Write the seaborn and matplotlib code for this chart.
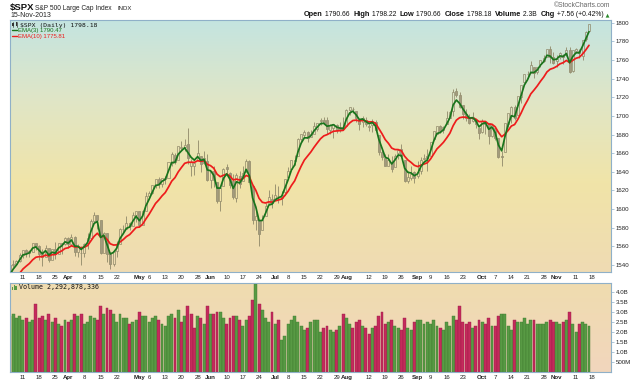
import numpy as np
import pandas as pd
import matplotlib
matplotlib.use("Agg")
import matplotlib.pyplot as plt
import seaborn as sns
from matplotlib.colors import LinearSegmentedColormap
from matplotlib.offsetbox import TextArea, HPacker, AnchoredOffsetbox
from matplotlib.patches import Rectangle
from matplotlib.lines import Line2D

# ---------------- data ----------------
holidays = ["2013-03-29", "2013-05-27", "2013-07-04", "2013-09-02"]
dates = [d for d in pd.bdate_range("2013-03-04", "2013-11-15") if d.strftime("%Y-%m-%d") not in holidays]

# closes used only to seed the moving averages (31-Jan .. 01-Mar)
warmup_close = [1498.11, 1513.17, 1495.71, 1511.29, 1512.12, 1509.39, 1517.93, 1517.01, 1519.43,
                1520.33, 1521.38, 1519.79, 1530.94, 1511.95, 1502.42, 1515.60, 1487.85, 1496.94,
                1515.99, 1514.68, 1518.20]

opens = [
 1518.2, 1525.2, 1539.8, 1541.5, 1544.3,
 1551.2, 1556.2, 1552.5, 1554.5, 1563.2, 1560.7, 1552.1, 1548.3, 1558.7, 1545.9, 1556.9, 1551.7, 1563.8, 1562.9,
 1569.2, 1562.2, 1570.3, 1553.7, 1553.0, 1553.3, 1563.1, 1568.6, 1587.7, 1593.3, 1588.8, 1552.4, 1574.6, 1552.0,
 1541.6, 1555.3, 1562.5, 1578.8, 1578.9, 1585.2, 1582.3, 1593.6,
 1597.6, 1582.8, 1597.6, 1614.4, 1617.6, 1626.0, 1632.7, 1626.7, 1632.1, 1633.8, 1649.1, 1658.1, 1652.5, 1665.7,
 1666.2, 1669.4, 1646.2, 1646.7, 1652.6, 1656.6, 1649.1, 1652.1,
 1631.7, 1640.7, 1629.1, 1609.0, 1625.3, 1644.7, 1638.6, 1629.9, 1612.1, 1635.5, 1630.6, 1639.8, 1651.8, 1624.6,
 1588.6, 1588.8, 1577.5, 1592.3, 1606.4, 1611.1,
 1609.8, 1614.3, 1611.5, 1618.7, 1634.2, 1642.9, 1651.6, 1657.4, 1675.3, 1679.6, 1682.7, 1677.9, 1681.0, 1686.2,
 1694.4, 1696.1, 1696.1, 1685.2, 1687.3, 1690.3, 1687.9, 1687.8,
 1689.4, 1706.1, 1708.0, 1705.8, 1695.3, 1693.4, 1696.1, 1688.4, 1690.7, 1693.9, 1679.6, 1661.2, 1655.3, 1646.8,
 1650.7, 1645.0, 1659.9, 1664.3, 1652.5, 1630.3, 1633.5, 1640.0,
 1635.9, 1640.7, 1653.3, 1657.4, 1656.9, 1675.1, 1681.0, 1689.2, 1685.0, 1691.7, 1697.7, 1705.0, 1727.0, 1722.4,
 1711.4, 1702.6, 1698.0, 1694.1, 1695.5, 1687.3,
 1682.4, 1691.9, 1692.4, 1678.8, 1687.2, 1676.2, 1657.0, 1660.9, 1691.1, 1699.9, 1709.2, 1700.5, 1720.2, 1736.7,
 1745.2, 1746.5, 1752.3, 1747.5, 1756.0, 1759.4, 1762.9, 1772.3, 1763.2,
 1758.7, 1763.4, 1765.7, 1765.0, 1770.7, 1748.4, 1770.0, 1769.5, 1764.4, 1782.8, 1790.66]

highs = [
 1525.3, 1543.5, 1545.3, 1545.8, 1552.5,
 1556.3, 1556.8, 1556.4, 1563.3, 1563.6, 1561.6, 1557.3, 1561.6, 1558.7, 1557.7, 1564.9, 1563.9, 1564.0, 1570.3,
 1570.6, 1573.7, 1571.5, 1562.6, 1560.0, 1563.1, 1573.9, 1589.1, 1597.4, 1593.3, 1588.8, 1575.4, 1574.6, 1554.4,
 1555.9, 1565.6, 1579.6, 1583.0, 1592.6, 1585.8, 1596.7, 1597.6,
 1597.6, 1598.6, 1618.5, 1619.8, 1626.0, 1632.8, 1635.0, 1633.7, 1636.0, 1651.1, 1661.5, 1660.5, 1667.5, 1672.8,
 1674.9, 1687.2, 1654.2, 1649.8, 1674.2, 1656.6, 1661.9, 1659.0,
 1640.4, 1646.5, 1629.3, 1622.7, 1644.4, 1648.7, 1640.1, 1637.7, 1639.3, 1640.8, 1646.5, 1654.2, 1652.5, 1624.6,
 1599.2, 1588.8, 1593.8, 1606.8, 1620.1, 1615.9,
 1626.6, 1624.3, 1619.0, 1632.1, 1644.7, 1652.3, 1657.9, 1676.6, 1680.2, 1684.5, 1683.7, 1684.8, 1693.1, 1692.1,
 1697.6, 1698.4, 1698.4, 1690.9, 1691.9, 1690.9, 1693.2, 1698.4,
 1707.9, 1709.7, 1709.2, 1705.8, 1695.3, 1700.2, 1699.4, 1691.5, 1696.8, 1695.5, 1679.6, 1663.6, 1659.2, 1658.9,
 1657.0, 1659.6, 1664.9, 1669.5, 1652.5, 1641.2, 1646.4, 1640.8,
 1651.4, 1655.7, 1659.2, 1664.8, 1672.4, 1684.1, 1689.1, 1690.0, 1688.7, 1705.0, 1705.5, 1729.4, 1729.9, 1725.2,
 1711.4, 1707.6, 1701.7, 1703.9, 1695.5, 1687.3,
 1696.6, 1693.9, 1692.4, 1691.9, 1687.2, 1676.8, 1662.5, 1692.6, 1703.4, 1711.0, 1711.6, 1721.8, 1733.4, 1745.3,
 1747.8, 1759.3, 1752.3, 1753.0, 1759.8, 1765.0, 1772.1, 1775.2, 1768.5,
 1765.7, 1768.8, 1767.0, 1773.7, 1774.5, 1770.8, 1773.4, 1771.8, 1782.0, 1791.5, 1798.22]

lows = [
 1512.3, 1525.2, 1538.1, 1541.5, 1542.9,
 1547.4, 1548.2, 1548.2, 1554.5, 1555.7, 1545.1, 1538.6, 1548.3, 1543.6, 1545.9, 1546.2, 1551.7, 1551.5, 1561.1,
 1558.5, 1562.2, 1549.8, 1549.0, 1539.5, 1548.6, 1557.0, 1568.6, 1586.2, 1579.0, 1552.3, 1552.4, 1543.7, 1536.0,
 1539.4, 1548.2, 1562.5, 1575.8, 1578.9, 1577.6, 1582.3, 1586.5,
 1581.3, 1582.8, 1597.6, 1614.2, 1616.6, 1622.7, 1623.1, 1623.7, 1626.7, 1633.8, 1646.7, 1648.6, 1652.5, 1663.5,
 1662.7, 1648.9, 1635.5, 1636.9, 1652.6, 1640.1, 1648.6, 1630.7,
 1622.7, 1623.6, 1607.1, 1598.2, 1625.3, 1639.3, 1622.9, 1610.9, 1608.1, 1623.0, 1630.3, 1639.8, 1628.9, 1584.3,
 1577.7, 1560.3, 1577.1, 1592.3, 1606.4, 1601.1,
 1609.8, 1606.8, 1604.6, 1614.7, 1634.2, 1642.9, 1647.7, 1657.4, 1672.3, 1677.9, 1671.8, 1677.9, 1681.0, 1684.1,
 1690.7, 1691.0, 1681.0, 1680.2, 1676.0, 1681.9, 1682.4, 1684.9,
 1689.4, 1700.7, 1703.6, 1693.3, 1684.9, 1688.4, 1689.0, 1683.4, 1682.6, 1684.8, 1658.6, 1652.6, 1645.8, 1646.1,
 1639.4, 1645.0, 1653.9, 1656.0, 1629.1, 1627.5, 1630.9, 1628.1,
 1633.4, 1637.4, 1653.1, 1640.6, 1656.9, 1675.1, 1681.0, 1682.0, 1682.2, 1691.7, 1697.7, 1700.4, 1720.2, 1708.9,
 1697.1, 1694.9, 1691.9, 1693.1, 1687.1, 1675.0,
 1682.1, 1680.3, 1670.4, 1677.3, 1674.7, 1655.0, 1646.5, 1660.9, 1688.5, 1692.1, 1695.9, 1700.5, 1714.1, 1735.7,
 1740.6, 1746.5, 1740.5, 1745.5, 1752.5, 1757.7, 1762.9, 1757.2, 1755.7,
 1752.7, 1761.6, 1755.8, 1764.4, 1746.2, 1747.6, 1767.3, 1762.3, 1760.6, 1780.2, 1790.66]

closes = [
 1525.20, 1539.79, 1541.46, 1544.26, 1551.18,
 1556.22, 1552.48, 1554.52, 1563.23, 1560.70, 1552.10, 1548.34, 1558.71, 1545.80, 1556.89, 1551.69, 1563.77,
 1562.85, 1569.19,
 1562.17, 1570.25, 1553.69, 1559.98, 1553.28, 1563.07, 1568.61, 1587.73, 1593.37, 1588.85, 1552.36, 1574.57,
 1552.01, 1541.61, 1555.25, 1562.50, 1578.78, 1578.79, 1585.16, 1582.24, 1593.61, 1597.57,
 1582.70, 1597.59, 1614.42, 1617.50, 1625.96, 1632.69, 1626.67, 1633.70, 1633.77, 1650.34, 1658.78, 1650.47,
 1667.47, 1666.29, 1669.16, 1655.35, 1650.51, 1649.60, 1660.06, 1648.36, 1654.41, 1630.74,
 1640.42, 1631.38, 1608.90, 1622.56, 1643.38, 1642.81, 1626.13, 1612.52, 1636.36, 1626.73, 1639.04, 1651.81,
 1628.93, 1588.19, 1592.43, 1573.09, 1588.03, 1603.26, 1613.20, 1606.28,
 1614.96, 1614.08, 1615.41, 1631.89, 1640.46, 1652.32, 1652.62, 1675.02, 1680.19, 1682.50, 1676.26, 1680.91,
 1689.37, 1692.09, 1695.53, 1692.39, 1685.94, 1690.25, 1691.65, 1685.33, 1685.96, 1685.73,
 1706.87, 1709.67, 1707.14, 1697.37, 1690.91, 1697.48, 1691.42, 1689.47, 1694.16, 1685.39, 1661.32, 1655.83,
 1646.06, 1652.35, 1642.80, 1656.96, 1663.50, 1656.78, 1630.48, 1634.96, 1638.17, 1632.97,
 1639.77, 1653.08, 1655.08, 1655.17, 1671.71, 1683.99, 1689.13, 1683.42, 1687.99, 1697.60, 1704.76, 1725.52,
 1722.34, 1709.91, 1701.84, 1697.42, 1692.77, 1698.67, 1691.75, 1681.55,
 1695.00, 1693.87, 1678.66, 1690.50, 1676.12, 1655.45, 1656.40, 1692.56, 1703.20, 1710.14, 1698.06, 1721.54,
 1733.15, 1744.50, 1744.66, 1754.67, 1746.38, 1752.07, 1759.77, 1762.11, 1771.95, 1763.31, 1756.54,
 1761.64, 1767.93, 1762.97, 1770.49, 1747.15, 1770.61, 1771.89, 1767.69, 1782.00, 1790.62, 1798.18]

# volume in billions of shares
volume_b = [
 2.6, 2.8, 2.9, 2.7, 2.8,
 2.6, 2.7, 2.5, 2.6, 3.4, 2.7, 2.8, 2.6, 2.9, 2.5, 2.7, 2.4, 2.3, 2.6,
 2.5, 2.6, 2.9, 2.8, 2.9, 2.4, 2.5, 2.8, 2.7, 2.6, 3.3, 2.9, 3.2, 3.1, 2.9, 2.5, 2.9, 2.7, 2.7, 2.4, 2.5, 2.6,
 3.0, 2.8, 2.8, 2.5, 2.7, 2.8, 2.6, 2.4, 2.3, 2.8, 2.9, 2.7, 3.1, 2.5, 2.8, 3.3, 2.9, 2.2, 2.8, 2.7, 2.4, 3.3,
 2.9, 2.9, 3.0, 3.0, 2.7, 2.4, 2.7, 2.8, 2.8, 2.6, 2.3, 2.6, 2.8, 3.6, 4.4, 3.4, 3.1, 2.7, 2.5, 3.0,
 2.4, 2.6, 1.6, 1.8, 2.4, 2.6, 2.8, 2.5, 2.3, 2.1, 2.2, 2.5, 2.6, 2.6, 2.0, 2.2, 2.3, 2.1, 2.0, 2.1, 2.3, 2.9,
 2.7, 2.4, 2.2, 2.5, 2.6, 2.3, 2.2, 1.9, 2.2, 2.3, 2.8, 3.0, 2.4, 2.5, 2.6, 2.3, 2.2, 2.1, 2.7, 2.2, 2.1, 2.5,
 2.6, 2.6, 2.4, 2.5, 2.4, 2.6, 2.3, 2.2, 2.1, 2.5, 2.3, 2.8, 2.6, 3.3, 2.5, 2.4, 2.5, 2.2, 2.3, 2.6,
 2.5, 2.4, 2.7, 2.3, 2.3, 2.8, 2.9, 2.9, 2.3, 2.1, 2.6, 2.5, 2.5, 2.7, 2.4, 2.6, 2.6, 2.4, 2.4, 2.4, 2.5, 2.6, 2.5,
 2.5, 2.4, 2.5, 2.6, 3.0, 2.4, 2.0, 2.4, 2.5, 2.4, 2.292878336]

# axis labels
day_ticks = ["2013-03-11", "2013-03-18", "2013-03-25", "2013-04-08", "2013-04-15", "2013-04-22",
             "2013-05-06", "2013-05-13", "2013-05-20", "2013-05-28", "2013-06-10", "2013-06-17",
             "2013-06-24", "2013-07-08", "2013-07-15", "2013-07-22", "2013-07-29", "2013-08-12",
             "2013-08-19", "2013-08-26", "2013-09-09", "2013-09-16", "2013-09-23", "2013-10-07",
             "2013-10-14", "2013-10-21", "2013-10-28", "2013-11-11"]
month_ticks = ["2013-04-01", "2013-05-01", "2013-06-03", "2013-07-01", "2013-08-01", "2013-09-03",
               "2013-10-01", "2013-11-01"]
month_names = ["Apr", "May", "Jun", "Jul", "Aug", "Sep", "Oct", "Nov"]
price_ticks = [1540, 1560, 1580, 1600, 1620, 1640, 1660, 1680, 1700, 1720, 1740, 1760, 1780, 1800]
vol_ticks = [0.5, 1.0, 1.5, 2.0, 2.5, 3.0, 3.5, 4.0]
vol_tick_labels = ["500M", "1.0B", "1.5B", "2.0B", "2.5B", "3.0B", "3.5B", "4.0B"]

assert len(dates) == len(opens) == len(highs) == len(lows) == len(closes) == len(volume_b), \
    (len(dates), len(opens), len(highs), len(lows), len(closes), len(volume_b))

# ---------------- derived ----------------
o = np.array(opens); h = np.array(highs); l = np.array(lows); c = np.array(closes)
vol = np.array(volume_b)
date_str = [d.strftime("%Y-%m-%d") for d in dates]
pos = {s: i - 5 for i, s in enumerate(date_str)}   # trading-day position, 11-Mar = 0
x = np.array([pos[s] for s in date_str])
pos["2013-11-18"] = x[-1] + 1

all_close = pd.Series(list(warmup_close) + closes)
ema3 = all_close.ewm(span=3, adjust=False).mean().values[len(warmup_close):]
ema10 = all_close.ewm(span=10, adjust=False).mean().values[len(warmup_close):]
prev_close = np.concatenate([[warmup_close[-1]], c[:-1]])
vol_up = c >= prev_close

# ---------------- figure ----------------
sns.set_style("white")
plt.rcParams["font.family"] = ["Liberation Sans", "DejaVu Sans"]

W, H = 640, 382
fig = plt.figure(figsize=(6.4, 3.82), dpi=100)
fig.patch.set_facecolor("white")

def fx(px):
    return px / W

def fy(py):
    return 1 - py / H

L, R = 10, 611
ax = fig.add_axes([fx(L), fy(272), fx(R - L), (272 - 20) / H])
axv = fig.add_axes([fx(L), fy(372), fx(R - L), (372 - 283) / H])

grad = np.linspace(0, 1, 256).reshape(-1, 1)
main_cmap = LinearSegmentedColormap.from_list(
    "bg", [(0, "#efdbb3"), (0.35, "#f1e4a8"), (0.68, "#e0e6c6"), (1, "#c4e4e0")])
vol_cmap = LinearSegmentedColormap.from_list("vbg", [(0, "#f2d6bd"), (1, "#efdcaf")])
ax.imshow(grad, cmap=main_cmap, origin="lower", extent=[0, 1, 0, 1],
          transform=ax.transAxes, aspect="auto", zorder=0)
axv.imshow(grad, cmap=vol_cmap, origin="lower", extent=[0, 1, 0, 1],
           transform=axv.transAxes, aspect="auto", zorder=0)

# candles
cedge = "#8f8869"
cfill = "#a39b7e"
body_lo = np.minimum(o, c)
body_hi = np.maximum(o, c)
ax.vlines(x, l, body_lo, color=cedge, lw=0.6, zorder=2)
ax.vlines(x, body_hi, h, color=cedge, lw=0.6, zorder=2)
up = c >= o
ax.bar(x[up], (body_hi - body_lo)[up], bottom=body_lo[up], width=0.62,
       facecolor="none", edgecolor=cedge, linewidth=0.5, zorder=2)
ax.bar(x[~up], (body_hi - body_lo)[~up], bottom=body_lo[~up], width=0.62,
       facecolor=cfill, edgecolor=cedge, linewidth=0.5, zorder=2)

# EMAs
sns.lineplot(x=x, y=ema10, ax=ax, color="#ee1c1c", lw=1.25, zorder=3)
sns.lineplot(x=x, y=ema3, ax=ax, color="#19741c", lw=1.25, zorder=4)

# volume
gcol, rcol = "#589a44", "#c42a5c"
axv.bar(x, vol, width=0.9, color=np.where(vol_up, gcol, rcol),
        edgecolor=np.where(vol_up, "#3f7a30", "#9a1f47"), linewidth=0.3, zorder=2)

# limits
xlo, xhi = -4.0, 181.8
ax.set_xlim(xlo, xhi)
axv.set_xlim(xlo, xhi)
ax.set_ylim(1532.5, 1803)
axv.set_ylim(0, 4.45)

border = "#8fb0c8"
for a in (ax, axv):
    for s in a.spines.values():
        s.set_color(border)
        s.set_linestyle((0, (1, 1)))
        s.set_linewidth(0.8)
    a.yaxis.tick_right()
    a.tick_params(axis="y", length=2, width=0.5, color=border, pad=1.5, labelsize=4.4,
                  labelcolor="#222222")
    a.tick_params(axis="x", length=0, pad=2.2, labelsize=4.4, labelcolor="#222222")
    a.grid(False)

ax.set_yticks(price_ticks)
ax.set_yticklabels([str(t) for t in price_ticks])
axv.set_yticks(vol_ticks)
axv.set_yticklabels(vol_tick_labels)

tick_pos = [pos[d] for d in day_ticks] + [pos["2013-11-18"]] + [pos[d] for d in month_ticks]
tick_lab = [str(int(d[-2:])) for d in day_ticks] + ["18"] + month_names
order = np.argsort(tick_pos)
tick_pos = [tick_pos[i] for i in order]
tick_lab = [tick_lab[i] for i in order]
for a in (ax, axv):
    a.set_xticks(tick_pos)
    a.set_xticklabels(tick_lab)
    for t in a.get_xticklabels():
        if t.get_text() in month_names:
            t.set_fontweight("bold")
ax.set_xlabel(""); ax.set_ylabel(""); axv.set_xlabel(""); axv.set_ylabel("")

# ---------------- texts ----------------
fig.text(fx(10), fy(10), "$SPX", fontsize=6.8, fontweight="bold", color="#111111", va="baseline")
fig.text(fx(35), fy(10), "S&P 500 Large Cap Index", fontsize=4.8, color="#222222", va="baseline")
fig.text(fx(118), fy(10), "INDX", fontsize=4.3, color="#222222", va="baseline")
fig.text(fx(10), fy(17), "15-Nov-2013", fontsize=5.0, color="#222222", va="baseline")
fig.text(fx(610), fy(7), "©StockCharts.com", fontsize=4.9, color="#666666", va="baseline", ha="right")

parts = [("Open", True), (" 1790.66  ", False), ("High", True), (" 1798.22  ", False),
         ("Low", True), (" 1790.66  ", False), ("Close", True), (" 1798.18  ", False),
         ("Volume", True), (" 2.3B  ", False), ("Chg", True), (" +7.56 (+0.42%)", False)]
boxes = []
for s, b in parts:
    boxes.append(TextArea(s, textprops=dict(fontsize=5.3 if b else 4.9,
                                            fontweight="bold" if b else "normal",
                                            color="#111111")))
boxes.append(TextArea(" ▲", textprops=dict(fontsize=3.6, color="#2a8a2a",
                                            family=["DejaVu Sans"])))
pack = HPacker(children=boxes, align="baseline", pad=0, sep=0)
anch = AnchoredOffsetbox(loc="upper right", child=pack, pad=0, frameon=False,
                         bbox_to_anchor=(fx(609), fy(11.5)), bbox_transform=fig.transFigure,
                         borderpad=0)
fig.add_artist(anch)

# legend inside price panel
fig.text(fx(20), fy(26.5), "$SPX (Daily) 1798.18", fontsize=4.6, family="DejaVu Sans Mono",
         color="#111111", va="baseline")
fig.add_artist(Line2D([fx(13), fx(13)], [fy(27), fy(21.5)], color="#333333", lw=0.5))
fig.add_artist(Rectangle((fx(12.2), fy(26)), fx(1.6), 3 / H, facecolor="#333333", edgecolor="none"))
fig.add_artist(Line2D([fx(16.5), fx(16.5)], [fy(27), fy(21.5)], color="#333333", lw=0.5))
fig.add_artist(Rectangle((fx(15.7), fy(25.5)), fx(1.6), 3 / H, facecolor="#333333", edgecolor="none"))
fig.add_artist(Line2D([fx(12), fx(17)], [fy(30), fy(30)], color="#19741c", lw=1.0))
fig.text(fx(18), fy(32), "EMA(3) 1790.47", fontsize=4.3, color="#19741c", va="baseline")
fig.add_artist(Line2D([fx(12), fx(17)], [fy(36), fy(36)], color="#ee1c1c", lw=1.0))
fig.text(fx(18), fy(38), "EMA(10) 1775.81", fontsize=4.3, color="#ee1c1c", va="baseline")

# volume legend
fig.add_artist(Rectangle((fx(12), fy(289.5)), fx(1.3), 3 / H, facecolor=gcol, edgecolor="none"))
fig.add_artist(Rectangle((fx(13.6), fy(289.5)), fx(1.3), 5 / H, facecolor=gcol, edgecolor="none"))
fig.add_artist(Rectangle((fx(15.2), fy(289.5)), fx(1.3), 4 / H, facecolor=gcol, edgecolor="none"))
fig.text(fx(19), fy(289.5), "Volume 2,292,878,336", fontsize=4.8, family="DejaVu Sans Mono",
         color="#111111", va="baseline")

fig.savefig("out.png", dpi=100, facecolor="white")
